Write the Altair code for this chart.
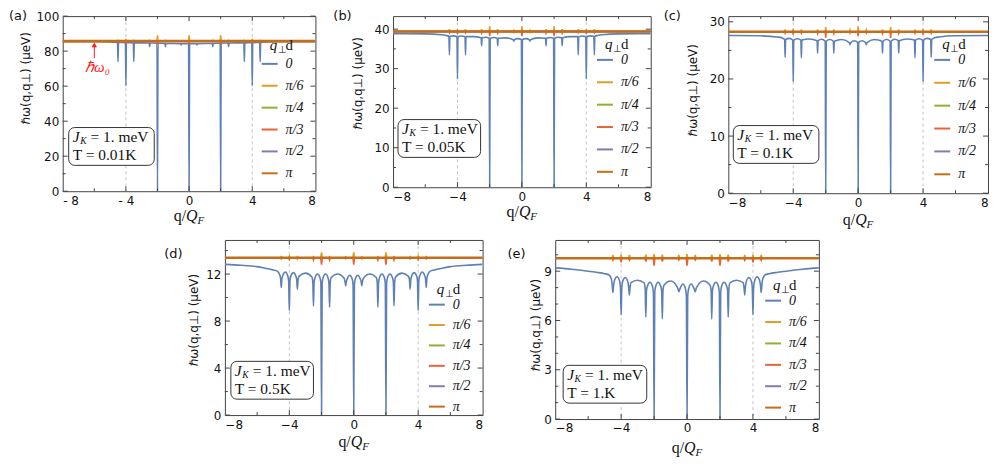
import altair as alt
import pandas as pd

SERIES = ["0", "π/6", "π/4", "π/3", "π/2", "π"]
COLORS = ["#5E81B5", "#E19C24", "#8FB032", "#EB6235", "#8778B3", "#C56E1A"]
STROKES = [1.6, 1.6, 1.6, 1.6, 1.6, 2.6]

X_MAJOR = [-4, 0, 4]
X_MINOR = [-6, -2, 2, 6]
X_LABELS = [-8, -4, 0, 4, 8]
VLINES = [-4, 4]

# q grid for panels a, b, c (narrow dips)
Q_SHARP = [-8, -6, -5, -4.7, -4.53, -4.5, -4.47, -4.25, -4.03, -4.0, -3.97, -3.75, -3.53, -3.5, -3.47,
           -3.0, -2.53, -2.5, -2.47, -2.25, -2.03, -2.0, -1.97, -1.75, -1.53, -1.5, -1.47, -1.0,
           -0.53, -0.5, -0.47, -0.25, -0.03, 0,
           0.03, 0.25, 0.47, 0.5, 0.53, 1.0, 1.47, 1.5, 1.53, 1.75, 1.97, 2.0, 2.03, 2.25, 2.47, 2.5,
           2.53, 3.0, 3.47, 3.5, 3.53, 3.75, 3.97, 4.0, 4.03, 4.25, 4.47, 4.5, 4.53, 4.7, 5, 6, 8]

A_BLUE = [85.45, 85.4, 85.3, 85.1, 84.9, 74.0, 84.9, 84.9, 84.8, 60.2, 84.8, 84.8, 84.7, 74.0, 84.7,
          84.7, 84.6, 82.6, 84.6, 84.6, 84.5, 0, 84.5, 84.5, 84.4, 82.6, 84.4, 84.4,
          84.2, 83.5, 84.2, 84.3, 84.2, 0,
          84.2, 84.3, 84.2, 83.5, 84.2, 84.4, 84.4, 82.6, 84.4, 84.5, 84.5, 0, 84.5, 84.6, 84.6, 82.6,
          84.6, 84.7, 84.7, 74.0, 84.7, 84.8, 84.8, 60.2, 84.8, 84.9, 84.9, 74.0, 84.9, 85.1, 85.3, 85.4, 85.45]

B_BLUE = [38.85, 38.8, 38.6, 38.4, 38.2, 33.5, 38.2, 38.3, 38.1, 27.4, 38.1, 38.25, 38.1, 33.5, 38.1,
          38.1, 37.8, 35.8, 37.8, 37.95, 37.7, 0, 37.7, 37.9, 37.7, 35.8, 37.7, 37.8,
          37.3, 37.0, 37.3, 37.6, 37.4, 0,
          37.4, 37.6, 37.3, 37.0, 37.3, 37.8, 37.7, 35.8, 37.7, 37.9, 37.7, 0, 37.7, 37.95, 37.8, 35.8,
          37.8, 38.1, 38.1, 33.5, 38.1, 38.25, 38.1, 27.4, 38.1, 38.3, 38.2, 33.5, 38.2, 38.4, 38.6, 38.8, 38.85]

C_BLUE = [27.6, 27.55, 27.35, 27.2, 26.9, 23.8, 26.9, 27.1, 26.8, 19.5, 26.8, 27.05, 26.8, 23.7, 26.8,
          27.0, 26.7, 24.5, 26.7, 26.95, 26.6, 0, 26.6, 26.9, 26.6, 24.5, 26.6, 26.9,
          26.3, 26.0, 26.3, 26.7, 26.4, 0,
          26.4, 26.7, 26.3, 26.0, 26.3, 26.9, 26.6, 24.5, 26.6, 26.9, 26.6, 0, 26.6, 26.95, 26.7, 24.5,
          26.7, 27.0, 26.8, 23.7, 26.8, 27.05, 26.8, 19.5, 26.8, 27.1, 26.9, 23.8, 26.9, 27.2, 27.35, 27.55, 27.6]

# q grid for panels d, e (cusp-shaped dips)
Q_CUSP = [-8, -7, -6, -5.5, -5, -4.75, -4.6, -4.54, -4.5, -4.46, -4.4, -4.25, -4.1, -4.04, -4.0, -3.96,
          -3.9, -3.75, -3.6, -3.54, -3.5, -3.46, -3.4, -3.0, -2.6, -2.54, -2.5, -2.46, -2.4, -2.25,
          -2.1, -2.04, -2.0, -1.96, -1.9, -1.75, -1.6, -1.54, -1.5, -1.46, -1.4, -1.0, -0.6, -0.54,
          -0.5, -0.46, -0.4, -0.25, -0.1, -0.04, 0,
          0.04, 0.1, 0.25, 0.4, 0.46, 0.5, 0.54, 0.6, 1.0, 1.4, 1.46, 1.5, 1.54, 1.6, 1.75, 1.9, 1.96,
          2.0, 2.04, 2.1, 2.25, 2.4, 2.46, 2.5, 2.54, 2.6, 3.0, 3.4, 3.46, 3.5, 3.54, 3.6, 3.75, 3.9,
          3.96, 4.0, 4.04, 4.1, 4.25, 4.4, 4.46, 4.5, 4.54, 4.6, 4.75, 5, 5.5, 6, 7, 8]

D_BLUE = [12.82, 12.75, 12.63, 12.5, 12.35, 12.25, 11.95, 11.6, 10.86, 11.6, 11.9, 12.17, 11.85, 11.4, 8.9, 11.4,
          11.85, 12.12, 11.85, 11.5, 10.72, 11.5, 11.8, 12.08, 11.75, 11.3, 9.28, 11.3, 11.7, 12.0,
          11.7, 11.2, 0, 11.2, 11.7, 12.0, 11.7, 11.25, 9.18, 11.25, 11.7, 12.0, 11.65, 11.35,
          11.0, 11.35, 11.6, 11.9, 11.6, 11.1, 0,
          11.1, 11.6, 11.9, 11.6, 11.35, 11.0, 11.35, 11.65, 12.0, 11.7, 11.25, 9.18, 11.25, 11.7, 12.0, 11.7, 11.2,
          0, 11.2, 11.7, 12.0, 11.7, 11.3, 9.28, 11.3, 11.75, 12.08, 11.8, 11.5, 10.72, 11.5, 11.85, 12.12, 11.85,
          11.4, 8.9, 11.4, 11.85, 12.17, 11.9, 11.6, 10.86, 11.6, 11.95, 12.25, 12.35, 12.5, 12.63, 12.75, 12.82]

E_BLUE = [9.2, 9.12, 9.0, 8.93, 8.85, 8.78, 8.55, 8.15, 7.7, 8.1, 8.45, 8.66, 8.42, 8.0, 6.34, 8.0,
          8.4, 8.62, 8.38, 8.0, 7.56, 8.0, 8.3, 8.45, 8.28, 7.9, 6.2, 7.85, 8.1, 8.33,
          8.1, 7.7, 0, 7.7, 8.1, 8.33, 8.1, 7.8, 6.1, 7.85, 8.15, 8.4, 8.05, 7.9,
          7.75, 7.85, 8.0, 8.22, 7.95, 7.5, 0,
          7.5, 7.95, 8.22, 8.0, 7.85, 7.75, 7.9, 8.05, 8.4, 8.15, 7.85, 6.1, 7.8, 8.1, 8.33, 8.1, 7.7,
          0, 7.7, 8.1, 8.33, 8.1, 7.85, 6.2, 7.9, 8.28, 8.45, 8.3, 8.0, 7.56, 8.0, 8.38, 8.62, 8.4,
          8.0, 6.34, 8.0, 8.42, 8.66, 8.45, 8.1, 7.7, 8.15, 8.55, 8.78, 8.85, 8.93, 9.0, 9.12, 9.2]

# positions of the small spikes on the q_perp d != 0 curves
SPIKE_Q = [-4.5, -4, -3.5, -2.5, -2, -1.5, -0.5, 0, 0.5, 1.5, 2, 2.5, 3.5, 4, 4.5]

A_LEVEL = 85.7
A_UP = [0.4, 1.2, 0.4, 0.4, 3.3, 0.4, 0.2, 3.3, 0.2, 0.4, 3.3, 0.4, 0.4, 1.2, 0.4]
A_DN = [-0.3, -1.5, -0.3, -0.3, -1.8, -0.3, -0.1, -1.8, -0.1, -0.3, -1.8, -0.3, -0.3, -1.5, -0.3]
B_LEVEL = 39.4
B_UP = [0.6, 0.6, 0.6, 0.6, 1.3, 0.6, 0.3, 1.3, 0.3, 0.6, 1.3, 0.6, 0.6, 0.6, 0.6]
B_DN = [-0.3, -0.6, -0.3, -0.4, -1.2, -0.4, -0.2, -1.2, -0.2, -0.4, -1.2, -0.4, -0.3, -0.6, -0.3]
C_LEVEL = 28.27
C_UP = [0.4, 0.5, 0.4, 0.4, 0.8, 0.4, 0.3, 0.95, 0.3, 0.4, 0.8, 0.4, 0.4, 0.5, 0.4]
C_DN = [-0.25, -0.5, -0.25, -0.3, -1.1, -0.3, -0.2, -0.8, -0.2, -0.3, -1.1, -0.3, -0.25, -0.5, -0.25]
D_LEVEL = 13.39
D_UP = [0.1, 0.15, 0.1, 0.1, 0.45, 0.1, 0.08, 0.45, 0.08, 0.1, 0.45, 0.1, 0.1, 0.15, 0.1]
D_DN = [-0.1, -0.15, -0.1, -0.2, -0.6, -0.2, -0.08, -0.6, -0.08, -0.2, -0.6, -0.2, -0.1, -0.15, -0.1]
E_LEVEL = 9.79
E_UP = [0.2, 0.2, 0.2, 0.22, 0.25, 0.22, 0.2, 0.25, 0.2, 0.22, 0.25, 0.22, 0.2, 0.2, 0.2]
E_DN = [-0.12, -0.25, -0.12, -0.2, -0.45, -0.2, -0.1, -0.45, -0.1, -0.2, -0.45, -0.2, -0.12, -0.25, -0.12]

YTITLE = "ℏω(q,q⊥)  (μeV)"

PANELS = [
    dict(tag="(a)", T="T = 0.01K", w=254, h=176, ymax=100, yt=[0, 20, 40, 60, 80, 100], ym=[10, 30, 50, 70, 90],
         q=Q_SHARP, blue=A_BLUE, level=A_LEVEL, up=A_UP, dn=A_DN, hw=0.03,
         ldx=-54, ldy=0, ttx=-37, tty=62, ly=39, lt=30, rp=6, bx=6, bw=86, boff=26, xt=30, spaced=True),
    dict(tag="(b)", T="T = 0.05K", w=259, h=172, ymax=43.3, yt=[0, 10, 20, 30, 40], ym=[5, 15, 25, 35],
         q=Q_SHARP, blue=B_BLUE, level=B_LEVEL, up=B_UP, dn=B_DN, hw=0.03,
         ldx=-60, ldy=0, ttx=-36, tty=67, ly=35, lt=29, rp=6.5, bx=5, bw=83, boff=30, xt=30, spaced=False),
    dict(tag="(c)", T="T = 0.1K", w=261, h=178, ymax=31, yt=[0, 10, 20, 30], ym=[5, 15, 25],
         q=Q_SHARP, blue=C_BLUE, level=C_LEVEL, up=C_UP, dn=C_DN, hw=0.03,
         ldx=-65, ldy=0, ttx=-36, tty=74, ly=35, lt=29, rp=7, bx=5, bw=86, boff=30, xt=32, spaced=False),
    dict(tag="(d)", T="T = 0.5K", w=259, h=176, ymax=14.9, yt=[0, 4, 8, 12], ym=[2, 6, 10, 14],
         q=Q_CUSP, blue=D_BLUE, level=D_LEVEL, up=D_UP, dn=D_DN, hw=0.05,
         ldx=-61, ldy=14, ttx=-32, tty=80, ly=56, lt=50, rp=4.5, bx=6, bw=83, boff=16, xt=32, spaced=False),
    dict(tag="(e)", T="T = 1.K", w=265, h=180, ymax=10.9, yt=[0, 3, 6, 9], ym=[1, 2, 4, 5, 7, 8, 10],
         q=Q_CUSP, blue=E_BLUE, level=E_LEVEL, up=E_UP, dn=E_DN, hw=0.05,
         ldx=-48, ldy=14, ttx=-20, tty=85, ly=52, lt=46, rp=5.5, bx=8, bw=84, boff=16, xt=34, spaced=False),
]


def spikes(level, amps, hw):
    qq, yy = [-8.0], [level]
    for p, a in zip(SPIKE_Q, amps):
        qq += [p - hw, p, p + hw]
        yy += [level, level + a, level]
    qq.append(8.0)
    yy.append(level)
    return qq, yy


def one():
    return alt.Chart(pd.DataFrame({"k": [0]}))


def txt(s, x, y, size, font="Liberation Serif", style="normal", align="left", baseline="alphabetic",
        color="#111"):
    return one().mark_text(text=s, font=font, fontSize=size, fontStyle=style, align=align,
                           baseline=baseline, color=color).encode(x=alt.value(x), y=alt.value(y))


def panel(c):
    W, H = c["w"], c["h"]
    xs = alt.Scale(domain=[-8, 8], nice=False, zero=False)
    ys = alt.Scale(domain=[0, c["ymax"]], nice=False, zero=False)
    if c["spaced"]:
        lab = "datum.value < 0 ? '- ' + abs(datum.value) : '' + datum.value"
    else:
        lab = "datum.value < 0 ? '\u2212' + abs(datum.value) : '' + datum.value"
    xaxis = alt.Axis(values=X_LABELS, ticks=False, domain=False, grid=False, labelPadding=4,
                     title=None, labelExpr=lab)
    yaxis = alt.Axis(values=c["yt"], ticks=False, domain=False, grid=False, labelPadding=4,
                     title=YTITLE, titleX=c["ttx"], titleY=c["tty"], titleAngle=-90,
                     titleAlign="center", titleBaseline="middle")

    def X():
        return alt.X("q:Q", scale=xs, axis=xaxis)

    def Y():
        return alt.Y("y:Q", scale=ys, axis=yaxis)

    legend = alt.Legend(orient="none", legendX=W - 55, legendY=c["ly"], title=None,
                        symbolType="stroke", symbolSize=256, symbolStrokeWidth=2,
                        labelFont="Liberation Serif", labelFontStyle="italic", labelFontSize=14,
                        labelColor="#111", labelOffset=7, rowPadding=c["rp"], padding=0)
    color = alt.Color("s:N", scale=alt.Scale(domain=SERIES, range=COLORS), legend=legend)

    layers = []
    layers.append(alt.Chart(pd.DataFrame({"q": VLINES})).mark_rule(
        color="#c4c4c4", strokeDash=[3, 3], strokeWidth=1).encode(x=X()))

    for i, s in enumerate(SERIES):
        if i == 0:
            qq, yy = c["q"], c["blue"]
        elif s == "π/6":
            qq, yy = spikes(c["level"], c["up"], c["hw"])
        elif s == "π/3":
            qq, yy = spikes(c["level"], c["dn"], c["hw"])
        else:
            qq, yy = [-8, 8], [c["level"], c["level"]]
        df = pd.DataFrame({"q": qq, "y": yy, "s": s})
        layers.append(alt.Chart(df).mark_line(
            strokeWidth=STROKES[i], interpolate="monotone" if i == 0 else "linear", clip=True).encode(
            x=X(), y=Y(), color=color))

    # inward frame ticks
    for vals, ln in ((X_MAJOR, 5), (X_MINOR, 3)):
        d = pd.DataFrame({"q": vals})
        layers.append(alt.Chart(d).mark_rule(color="#444", strokeWidth=1).encode(
            x=X(), y=alt.value(H), y2=alt.value(H - ln)))
        layers.append(alt.Chart(d).mark_rule(color="#444", strokeWidth=1).encode(
            x=X(), y=alt.value(0), y2=alt.value(ln)))
    for vals, ln in ((c["yt"], 5), (c["ym"], 3)):
        d = pd.DataFrame({"y": vals})
        layers.append(alt.Chart(d).mark_rule(color="#444", strokeWidth=1).encode(
            y=Y(), x=alt.value(0), x2=alt.value(ln)))
        layers.append(alt.Chart(d).mark_rule(color="#444", strokeWidth=1).encode(
            y=Y(), x=alt.value(W), x2=alt.value(W - ln)))

    # text box
    bx, bw, bh = c["bx"], c["bw"], 38
    by = H - c["boff"] - bh
    layers.append(one().mark_rect(fill="white", stroke="#333", strokeWidth=1, cornerRadius=6).encode(
        x=alt.value(bx), x2=alt.value(bx + bw), y=alt.value(by), y2=alt.value(by + bh)))
    layers.append(txt("J", bx + 4, by + 14.5, 15.5, style="italic"))
    layers.append(txt("K", bx + 11.5, by + 16.5, 9.5, style="italic"))
    layers.append(txt("= 1. meV", bx + 22, by + 14.5, 15.5))
    layers.append(txt(c["T"], bx + 4, by + 33, 15.5))

    # legend title q⊥d
    lx = W - 55
    layers.append(txt("q", lx + 9, c["lt"] + 4, 15, style="italic"))
    layers.append(txt("⊥", lx + 17, c["lt"] + 7, 10))
    layers.append(txt("d", lx + 25, c["lt"] + 4, 15))

    # panel tag
    layers.append(txt(c["tag"], c["ldx"], c["ldy"], 13, font="DejaVu Sans", baseline="middle"))

    # x title q/Q_F
    cx = W / 2
    layers.append(txt("q/", cx - 3, H + c["xt"], 16, align="right"))
    layers.append(txt("Q", cx - 3, H + c["xt"], 16, style="italic"))
    layers.append(txt("F", cx + 8.5, H + c["xt"] + 3, 11, style="italic"))

    if c["tag"] == "(a)":
        arr = pd.DataFrame({"q": [-6], "y": [76.0]})
        layers.append(alt.Chart(arr).mark_rule(color="#ff1a1a", strokeWidth=1).encode(
            x=X(), y=Y(), y2=alt.datum(83.5)))
        head = pd.DataFrame({"q": [-6], "y": [83.6]})
        layers.append(alt.Chart(head).mark_point(shape="triangle-up", filled=True, color="#ff1a1a",
                                                 size=30, opacity=1).encode(x=X(), y=Y()))
        lbl = pd.DataFrame({"q": [-5.8], "y": [71.0]})
        layers.append(alt.Chart(lbl).mark_text(text="ℏω₀", color="#ff1a1a", font="Liberation Serif",
                                               fontSize=15, fontStyle="italic", baseline="middle").encode(
            x=X(), y=Y()))

    return alt.layer(*layers).properties(width=W, height=H)


pa, pb, pc, pd_, pe = [panel(c) for c in PANELS]

spacer = alt.Chart(pd.DataFrame({"k": [0]})).mark_point(opacity=0).properties(
    width=96, height=10, view=alt.ViewBackground(stroke="transparent"))


def indep(ch):
    return ch.resolve_scale(color="independent").resolve_legend(color="independent")


row1 = indep(alt.hconcat(indep(alt.hconcat(pa, pb, spacing=16)), pc, spacing=11))
row2 = indep(alt.hconcat(indep(alt.hconcat(spacer, pd_, spacing=4)), pe, spacing=23))

chart = indep(alt.vconcat(row1, row2, spacing=8)).properties(padding=0).configure_view(
    stroke="#444", strokeWidth=1).configure_axis(
    labelFont="DejaVu Sans", labelFontSize=12, labelColor="#111",
    titleFont="DejaVu Sans", titleFontSize=12, titleFontWeight="normal", titleColor="#111")

chart.save("out.html", embed_options={"renderer": "svg", "actions": False})
